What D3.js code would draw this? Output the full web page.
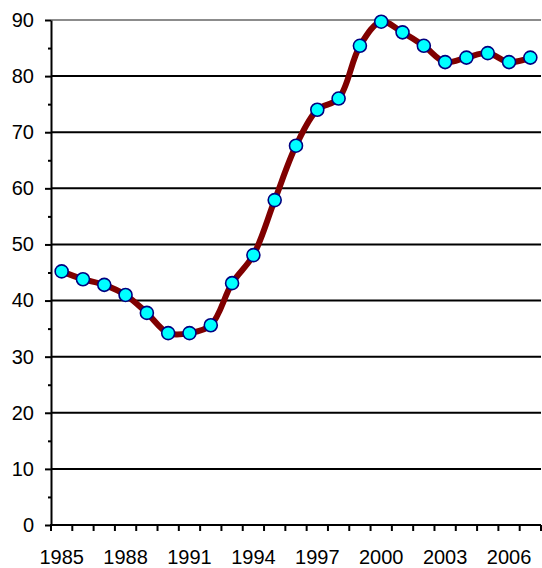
<!DOCTYPE html>
<html><head><meta charset="utf-8">
<script src="https://cdn.jsdelivr.net/npm/d3@7"></script>
<style>body{margin:0;background:#fff}svg{display:block}text{font-family:"Liberation Sans",Arial,sans-serif}</style>
</head><body><svg id="c" width="542" height="568"></svg>
<script>
const years = [1985,1986,1987,1988,1989,1990,1991,1992,1993,1994,1995,1996,1997,1998,1999,2000,2001,2002,2003,2004,2005,2006,2007];
const values = [45.2,43.8,42.8,41.0,37.8,34.2,34.2,35.6,43.1,48.1,57.9,67.6,74.0,76.0,85.4,89.7,87.8,85.4,82.5,83.3,84.1,82.5,83.3];
const yTicks = [0,10,20,30,40,50,60,70,80,90];
const yMinor = [5,15,25,35,45,55,65,75,85];
const xLabels = [1985,1988,1991,1994,1997,2000,2003,2006];

const svg = d3.select("#c");
const L=51, R=541, T=20, B=525;
const x = d3.scaleBand().domain(years).range([L,R]).paddingInner(0).paddingOuter(0);
const y = d3.scaleLinear().domain([0,90]).range([B,T]);

// gridlines
svg.append("g").selectAll("line").data(yTicks.filter(d=>d>0)).join("line")
  .attr("x1",L).attr("x2",R).attr("y1",d=>y(d)).attr("y2",d=>y(d))
  .attr("stroke",d=>d===90?"#8c8c8c":"#000").attr("stroke-width",2);

// y axis
const yAxis = d3.axisLeft(y).tickValues(yTicks).tickSize(6).tickSizeOuter(0).tickPadding(11);
const gy = svg.append("g").attr("transform",`translate(${L},0)`).call(yAxis);
gy.select(".domain").attr("stroke","#000").attr("stroke-width",2);
gy.selectAll(".tick line").attr("stroke","#000").attr("stroke-width",2);
gy.selectAll(".tick text").attr("font-size",20).attr("fill","#000").attr("font-family","Liberation Sans, Arial, sans-serif");
const yMinAxis = d3.axisLeft(y).tickValues(yMinor).tickSize(3).tickFormat("");
const gym = svg.append("g").attr("transform",`translate(${L},0)`).call(yMinAxis);
gym.select(".domain").remove();
gym.selectAll(".tick line").attr("stroke","#000").attr("stroke-width",2);

// x axis ticks at band boundaries
const bounds = years.map(d=>x(d)).concat([R]);
const gx = svg.append("g");
gx.append("line").attr("x1",L-1).attr("x2",R).attr("y1",B).attr("y2",B).attr("stroke","#000").attr("stroke-width",2);
gx.selectAll("line.t").data(bounds).join("line").attr("class","t")
  .attr("x1",d=>d).attr("x2",d=>d).attr("y1",B).attr("y2",B+6).attr("stroke","#000").attr("stroke-width",2);
gx.selectAll("text").data(xLabels).join("text")
  .attr("x",d=>x(d)+x.bandwidth()/2).attr("y",B+39)
  .attr("text-anchor","middle").attr("font-size",20).attr("fill","#000").text(d=>d);

// line
const cx = d=>x(d)+x.bandwidth()/2;
const line = d3.line().x((d,i)=>cx(years[i])).y(d=>y(d)).curve(d3.curveCatmullRom.alpha(0.5));
svg.append("path").datum(values).attr("d",line).attr("fill","none")
  .attr("stroke","#800000").attr("stroke-width",6).attr("stroke-linejoin","round");

// markers
svg.append("g").selectAll("circle").data(values).join("circle")
  .attr("cx",(d,i)=>cx(years[i])).attr("cy",d=>y(d)).attr("r",6.5)
  .attr("fill","#00ffff").attr("stroke","#000080").attr("stroke-width",1.6);
</script></body></html>
